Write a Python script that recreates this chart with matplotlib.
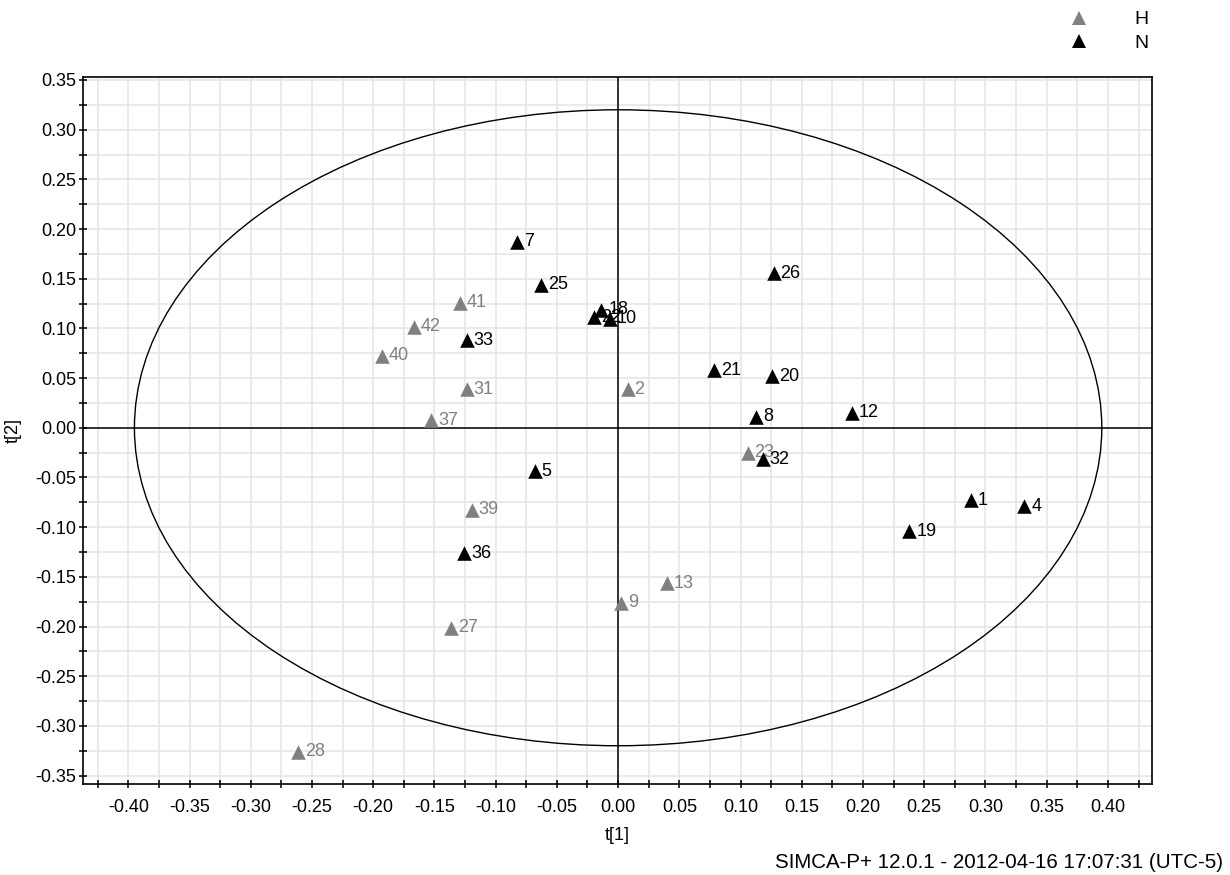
import matplotlib
matplotlib.use("Agg")
import matplotlib.pyplot as plt
from matplotlib.patches import Ellipse
from matplotlib.ticker import MultipleLocator, FormatStrFormatter
from matplotlib.lines import Line2D

plt.rcParams['font.family'] = ['Liberation Sans', 'DejaVu Sans']
plt.rcParams['axes.unicode_minus'] = False

#
# score values
# ------------------------------
#
h_ids = ['41', '42', '40', '31', '37', '2', '23', '39', '13', '9', '27', '28']
h_t1 = [-0.1295, -0.167, -0.193, -0.1235, -0.1527, 0.0077, 0.1057, -0.1196, 0.0397, 0.0022, -0.1364, -0.2614]
h_t2 = [0.126, 0.1017, 0.0727, 0.0386, 0.0078, 0.0386, -0.025, -0.0823, -0.1566, -0.176, -0.2011, -0.326]

n_ids = ['7', '25', '33', '22', '18', '10', '26', '21', '20', '8', '12', '5', '32', '1', '4', '19', '36']
n_t1 = [-0.0823, -0.0626, -0.1235, -0.0197, -0.0137, -0.0066, 0.1269, 0.0785, 0.1255, 0.1125, 0.1908,
        -0.068, 0.118, 0.2883, 0.3318, 0.2378, -0.1255]
n_t2 = [0.187, 0.1437, 0.088, 0.111, 0.1188, 0.1096, 0.1557, 0.0578, 0.0517, 0.0111, 0.0152,
        -0.044, -0.0318, -0.073, -0.079, -0.104, -0.1264]

# Hotelling T2 ellipse half axes
ell_a = 0.395
ell_b = 0.32

h_col = '#808080'
n_col = 'black'

#
# graphics
# --------
#
fig = plt.figure(figsize=(12.3, 8.75), dpi=100)
ax = fig.add_axes([83/1230, 1 - 784/875, (1152 - 83)/1230, (784 - 77)/875])

ax.set_xlim(-0.437, 0.436)
ax.set_ylim(-0.3585, 0.353)
for axis in (ax.xaxis, ax.yaxis):
    axis.set_major_locator(MultipleLocator(0.05))
    axis.set_minor_locator(MultipleLocator(0.025))
    axis.set_major_formatter(FormatStrFormatter('%.2f'))
ax.grid(True, which='both', color='#e6e6e6', lw=1.2, zorder=0)
ax.set_axisbelow(True)
ax.tick_params(which='both', direction='inout', length=5.5, width=1.1, labelsize=13)
ax.tick_params(axis='x', which='both', pad=8)
ax.tick_params(axis='y', which='both', pad=2)
for sp in ax.spines.values():
    sp.set_linewidth(1.2)

ax.axhline(0, color='black', lw=1.1, zorder=1)
ax.axvline(0, color='black', lw=1.1, zorder=1)
ax.add_patch(Ellipse((0, 0), 2*ell_a, 2*ell_b, fill=False, ec='black', lw=1.0, zorder=1))

z = 3
for ids, xs, ys, col in ((h_ids, h_t1, h_t2, h_col), (n_ids, n_t1, n_t2, n_col)):
    for lab, x, y in zip(ids, xs, ys):
        ax.scatter([x], [y], marker='^', s=110, color=col, linewidths=0, zorder=z)
        ax.annotate(lab, (x, y), xytext=(5, 0), textcoords='offset points',
                    va='center', ha='left', color=col, fontsize=13, zorder=z + 1)
        z += 2

ax.set_xlabel('t[1]', fontsize=13, labelpad=8)
ax.set_ylabel('t[2]', fontsize=13, labelpad=10)

handles = [Line2D([], [], ls='none', marker='^', ms=10, color=h_col, mew=0),
           Line2D([], [], ls='none', marker='^', ms=10, color=n_col, mew=0)]
fig.legend(handles, ['H', 'N'], loc='upper left', bbox_to_anchor=(1055/1230, 1 - 1/875),
           frameon=False, fontsize=14, handlelength=1.5, handletextpad=2.1,
           labelspacing=0.3, borderpad=0)

fig.text(1223/1230, 1 - 862/875, 'SIMCA-P+ 12.0.1 - 2012-04-16 17:07:31 (UTC-5)',
         ha='right', va='center', fontsize=14.8)

fig.savefig('out.png', dpi=100)
